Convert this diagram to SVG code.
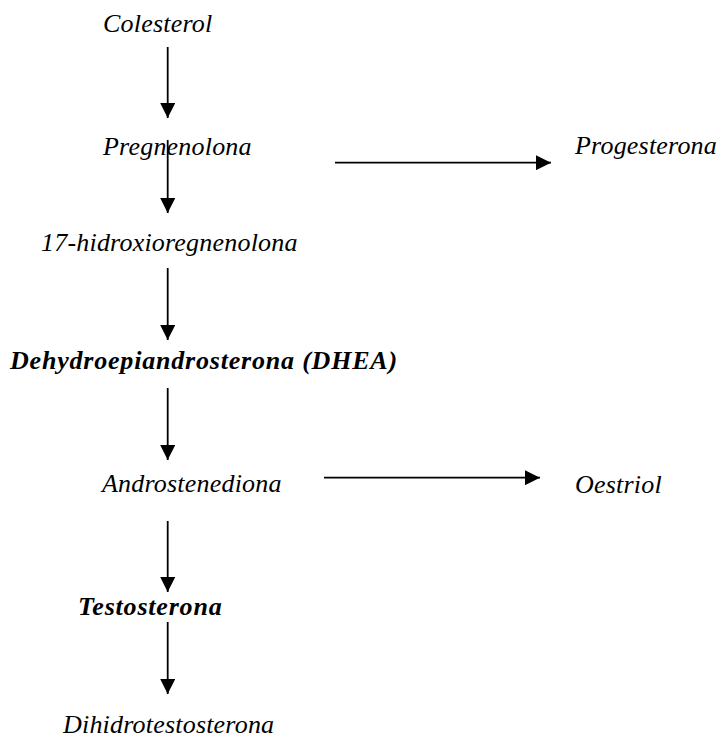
<svg xmlns="http://www.w3.org/2000/svg" width="723" height="740" viewBox="0 0 723 740">
  <style>
    text { font-family: 'Liberation Serif', 'Times New Roman', Tinos, 'DejaVu Serif', serif; font-style: italic; font-size: 26px; letter-spacing: 0.2px; fill: #000; }
    .b { font-weight: bold; letter-spacing: 0.8px; }
    .c { stroke: #000; stroke-width: 1.8; fill: none; marker-end: url(#ah); }
  </style>
  <defs>
    <marker id="ah" markerUnits="userSpaceOnUse" markerWidth="15" markerHeight="15" refX="15" refY="7.5" orient="auto">
      <path d="M0,0 L15,7.5 L0,15 Z" fill="#000"/>
    </marker>
  </defs>
  <rect width="723" height="740" fill="#fff"/>
  <g id="connectors">
    <line class="c" x1="167.7" y1="47" x2="167.7" y2="118"/>
    <line class="c" x1="167.7" y1="140" x2="167.7" y2="213"/>
    <line class="c" x1="167.7" y1="268" x2="167.7" y2="340"/>
    <line class="c" x1="167.7" y1="388" x2="167.7" y2="460"/>
    <line class="c" x1="167.7" y1="521" x2="167.7" y2="592"/>
    <line class="c" x1="167.7" y1="622" x2="167.7" y2="694"/>
    <line class="c" x1="335" y1="162.7" x2="551" y2="162.7"/>
    <line class="c" x1="324" y1="477.7" x2="540" y2="477.7"/>
  </g>
  <g id="colesterol"><text font-family="Liberation Serif, serif" x="103" y="32">Colesterol</text></g>
  <g id="pregnenolona"><text font-family="Liberation Serif, serif" x="103" y="155">Pregnenolona</text></g>
  <g id="progesterona"><text font-family="Liberation Serif, serif" x="575" y="154">Progesterona</text></g>
  <g id="hidroxipregnenolona"><text font-family="Liberation Serif, serif" x="41" y="251">17-hidroxioregnenolona</text></g>
  <g id="dhea"><text class="b" font-family="Liberation Serif, serif" x="10" y="369">Dehydroepiandrosterona (DHEA)</text></g>
  <g id="androstenediona"><text font-family="Liberation Serif, serif" x="102" y="492">Androstenediona</text></g>
  <g id="oestriol"><text font-family="Liberation Serif, serif" x="575" y="493">Oestriol</text></g>
  <g id="testosterona"><text class="b" font-family="Liberation Serif, serif" x="78" y="615">Testosterona</text></g>
  <g id="dihidrotestosterona"><text font-family="Liberation Serif, serif" x="63" y="733">Dihidrotestosterona</text></g>
</svg>
